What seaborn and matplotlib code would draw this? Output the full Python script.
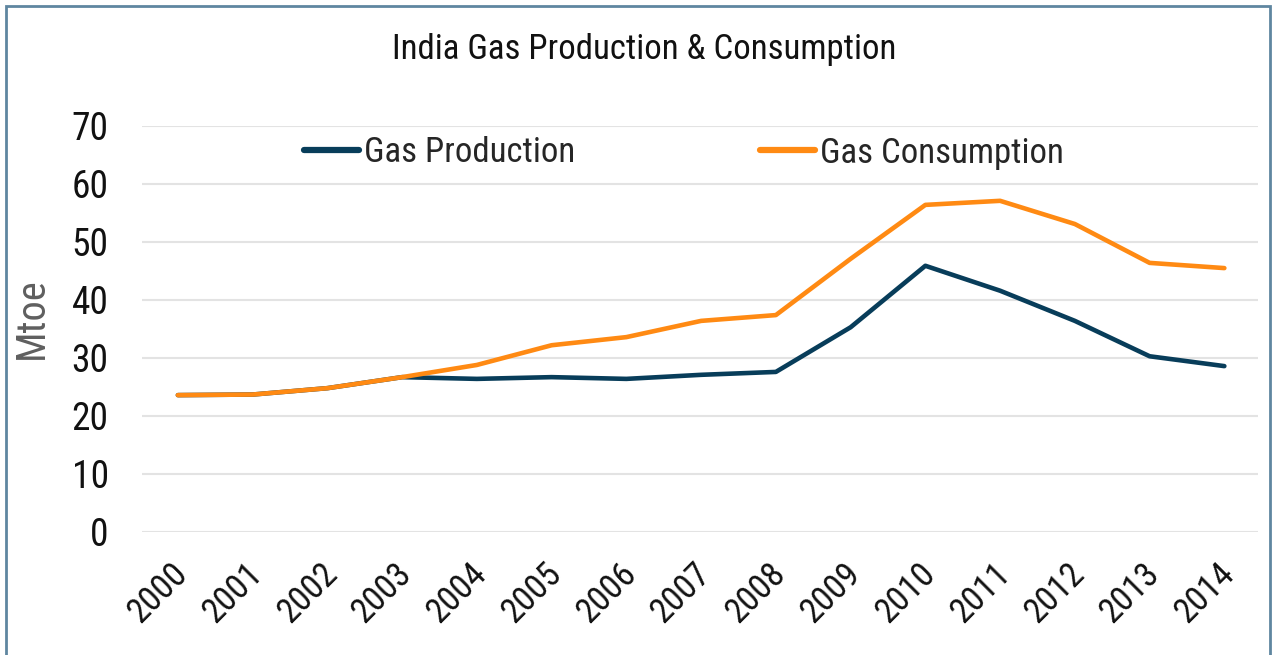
import matplotlib
matplotlib.use("Agg")
import matplotlib.pyplot as plt
import matplotlib.transforms as mtransforms
import seaborn as sns
import pandas as pd
from matplotlib import font_manager
from matplotlib.patches import Rectangle

years = [str(y) for y in range(2000, 2015)]
production = [23.6, 23.7, 24.8, 26.7, 26.4, 26.7, 26.4, 27.1, 27.6, 35.3, 45.9, 41.6, 36.4, 30.3, 28.6]
consumption = [23.6, 23.7, 24.8, 26.7, 28.8, 32.2, 33.6, 36.4, 37.4, 47.1, 56.4, 57.1, 53.1, 46.4, 45.5]
series_names = ["Gas Production", "Gas Consumption"]
colors = ["#083d5a", "#ff8a13"]
yticks = [0, 10, 20, 30, 40, 50, 60, 70]

sns.set_theme(style="white")
names = {f.name for f in font_manager.fontManager.ttflist}
fam = "Liberation Sans"
narrow = False
for cand in ["Liberation Sans Narrow", "Arial Narrow", "Roboto Condensed", "Open Sans Condensed",
             "DejaVu Sans Condensed", "Noto Sans Condensed"]:
    if cand in names:
        fam = cand
        narrow = True
        break
plt.rcParams['font.family'] = [fam, 'DejaVu Sans']
k = 1.0 if narrow else 0.88

df = pd.DataFrame({"Year": years * 2,
                   "Value": production + consumption,
                   "Series": [series_names[0]] * len(years) + [series_names[1]] * len(years)})

fig = plt.figure(figsize=(12.76, 6.55), dpi=100)
ax = fig.add_axes([142/1276, 1 - 532/655, (1258-142)/1276, (532-126)/655])

sns.lineplot(data=df, x="Year", y="Value", hue="Series", palette=colors, ax=ax,
             linewidth=3.3, sort=False, solid_capstyle="round")

ax.set_ylim(0, 70)
ax.set_yticks(yticks)
ax.set_xlim(-0.48, 14.45)
ax.yaxis.grid(True, color="#e3e3e3", linewidth=1.5)
ax.xaxis.grid(False)
for s in ax.spines.values():
    s.set_visible(False)
ax.tick_params(axis="y", labelsize=27 * k, length=0, pad=24, labelcolor="#111111")
ax.tick_params(axis="x", labelsize=25 * k, length=0, pad=18, labelcolor="#111111")
offset = mtransforms.ScaledTranslation(-7 / 100, 0, fig.dpi_scale_trans)
for lab in ax.get_xticklabels():
    lab.set_rotation(45)
    lab.set_ha("right")
    lab.set_rotation_mode("anchor")
    lab.set_transform(lab.get_transform() + offset)
ax.set_xlabel("")
ax.set_ylabel("Mtoe", fontsize=29 * k, color="#5f5f5f")
ax.yaxis.label.set_va("center")
ax.yaxis.set_label_coords((31 - 142) / 1116, 0.527)

leg = ax.legend(loc="center", bbox_to_anchor=((684 - 142) / 1116, (532 - 153) / 406), ncol=2,
                frameon=False, fontsize=25 * k, handlelength=1.6, handletextpad=0.15,
                columnspacing=5.3)
for h in leg.legend_handles:
    h.set_linewidth(4.5)

fig.text(0.5 + 6 / 1276, 1 - 49/655, "India Gas Production & Consumption", ha="center", va="center",
         fontsize=25 * k, color="#111111")

fig.patches.append(Rectangle((6/1276, -0.02), (1270-6)/1276, 1 - 6/655 + 0.02,
                             transform=fig.transFigure, fill=False,
                             edgecolor="#5f86a0", linewidth=2))

fig.savefig("out.png", dpi=100)
